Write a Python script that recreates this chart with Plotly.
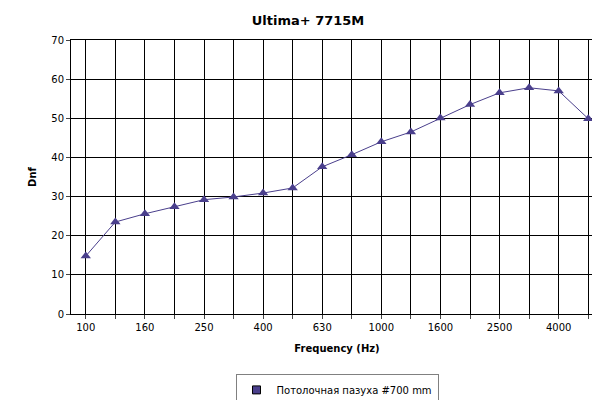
import plotly.graph_objects as go

freqs = ["100","125","160","200","250","315","400","500","630","800","1000","1250","1600","2000","2500","3150","4000","5000"]
dnf = [14.8,23.5,25.6,27.4,29.2,29.9,30.9,32.2,37.6,40.7,44.0,46.5,50.1,53.5,56.5,57.8,57.0,49.9]
tick_text = [f if i % 2 == 0 else "" for i, f in enumerate(freqs)]
color = "#4a3f8c"

fig = go.Figure()
fig.add_trace(go.Scatter(
    x=list(range(len(freqs))), y=dnf, mode="lines+markers", showlegend=False,
    line=dict(color=color, width=1),
    marker=dict(symbol="triangle-up", size=9, color=color),
))
fig.add_trace(go.Scatter(
    x=[None], y=[None], mode="markers", name="Потолочная пазуха #700 mm",
    marker=dict(symbol="square", size=8, color=color, line=dict(color="black", width=1)),
))
fig.update_layout(
    width=600, height=400, paper_bgcolor="white", plot_bgcolor="white",
    font=dict(family="DejaVu Sans", size=10, color="black"),
    title=dict(text="<b>Ultima+ 7715M</b>", x=0.5, y=0.97, xanchor="center", yanchor="middle", font=dict(size=13)),
    margin=dict(l=63, r=5, t=32, b=94, autoexpand=False),
    showlegend=True,
    legend=dict(orientation="h", x=0.5, xanchor="center", y=-0.277, yanchor="middle",
                bordercolor="#808080", borderwidth=1, font=dict(size=10), itemwidth=30),
    xaxis=dict(tickvals=list(range(len(freqs))), ticktext=tick_text, range=[-0.5, len(freqs) - 0.5],
               showgrid=True, gridcolor="black", gridwidth=1, showline=True, linecolor="black", mirror=True,
               ticks="outside", ticklen=4, zeroline=False, automargin=False,
               title=dict(text="<b>Frequency (Hz)</b>", font=dict(size=10), standoff=12)),
    yaxis=dict(range=[0, 70], dtick=10, showgrid=True, gridcolor="black", gridwidth=1,
               showline=True, linecolor="black", mirror=True, ticks="outside", ticklen=4, zeroline=False,
               automargin=False,
               title=dict(text="<b>Dnf</b>", font=dict(size=10), standoff=12)),
)
fig.write_html("out.html")
